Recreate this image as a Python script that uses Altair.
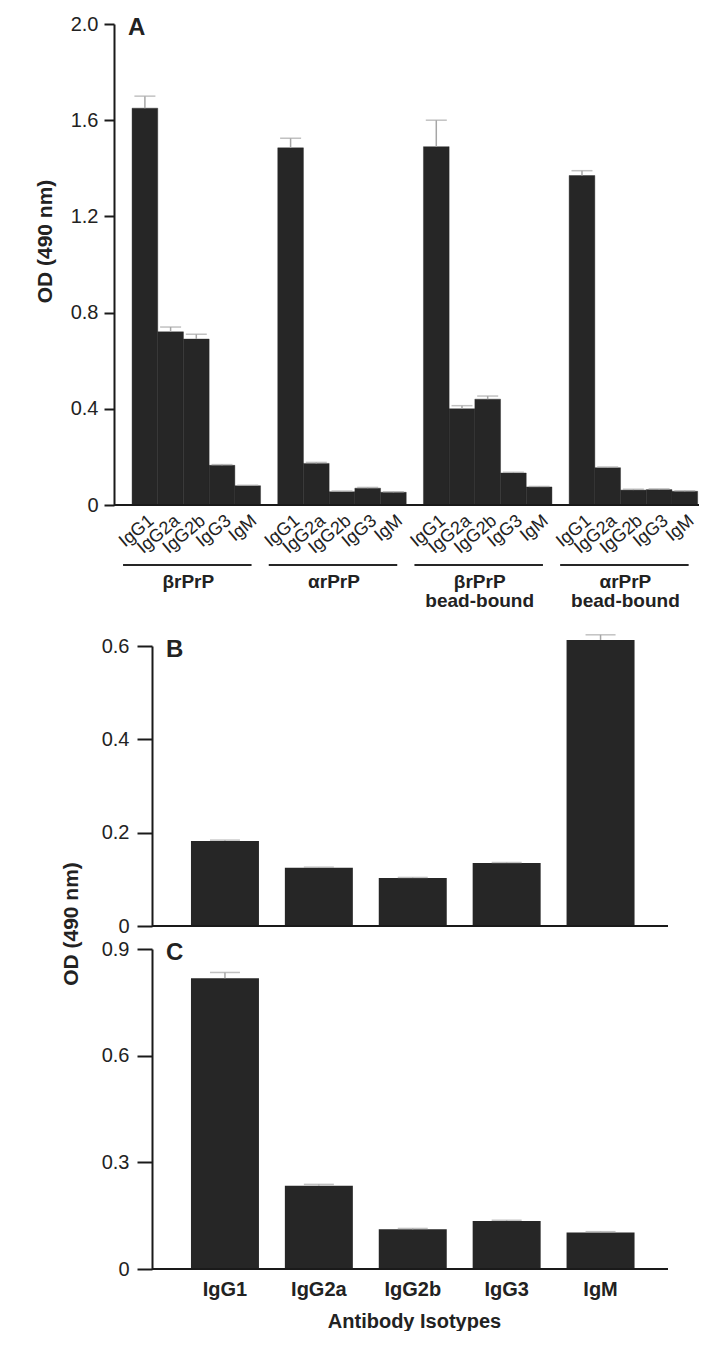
import altair as alt
import pandas as pd

DARK = "#262626"
GREY = "#a6a6a6"
AXC = "#1a1a1a"
TXT = "#222222"
FONT = "Liberation Sans"

isotypes = ["IgG1", "IgG2a", "IgG2b", "IgG3", "IgM"]

# Panel A
a_groups = ["g1", "g2", "g3", "g4"]
a_group_labels = ["βrPrP", "αrPrP", "βrPrP\nbead-bound", "αrPrP\nbead-bound"]
a_beta = [1.65, 0.72, 0.69, 0.165, 0.08]
a_alpha = [1.485, 0.173, 0.055, 0.07, 0.053]
a_beta_bead = [1.49, 0.40, 0.44, 0.133, 0.075]
a_alpha_bead = [1.37, 0.155, 0.062, 0.064, 0.057]
a_beta_err = [0.05, 0.02, 0.02, 0.003, 0.002]
a_alpha_err = [0.04, 0.004, 0.003, 0.003, 0.002]
a_beta_bead_err = [0.11, 0.013, 0.013, 0.003, 0.002]
a_alpha_bead_err = [0.02, 0.003, 0.003, 0.003, 0.002]
a_ticks = [0, 0.4, 0.8, 1.2, 1.6, 2.0]

# Panel B
b_vals = [0.182, 0.125, 0.103, 0.135, 0.613]
b_errs = [0.002, 0.001, 0.001, 0.001, 0.011]
b_ticks = [0, 0.2, 0.4, 0.6]

# Panel C
c_vals = [0.818, 0.234, 0.112, 0.135, 0.103]
c_errs = [0.016, 0.004, 0.002, 0.002, 0.002]
c_ticks = [0, 0.3, 0.6, 0.9]

label_expr = "datum.value == 0 ? '0' : format(datum.value, '.1f')"
one = pd.DataFrame({"k": [0]})

# ---------- Panel A ----------
rows = []
for g, lab, vals, errs in zip(a_groups, a_group_labels,
                              [a_beta, a_alpha, a_beta_bead, a_alpha_bead],
                              [a_beta_err, a_alpha_err, a_beta_bead_err, a_alpha_bead_err]):
    for iso, v, e in zip(isotypes, vals, errs):
        rows.append({"group": g, "label": lab, "iso": iso, "val": v, "top": v + e})
df_a = pd.DataFrame(rows)
df_ag = pd.DataFrame({"group": a_groups, "label": a_group_labels})

WA, HA_PLOT, HA = 585, 481, 599

xa = alt.X("group:N", sort=a_groups,
           scale=alt.Scale(domain=a_groups, paddingInner=0.118, paddingOuter=0.0666, align=0.93),
           axis=None)
xoa = alt.XOffset("iso:N", sort=isotypes,
                  scale=alt.Scale(domain=isotypes, paddingInner=0, paddingOuter=0))
ya_scale = alt.Scale(domain=[0, 2.0], range=[HA_PLOT, 0], nice=False, zero=True)
ya_axis = alt.Axis(values=a_ticks, labelExpr=label_expr, grid=False,
                   tickSize=10, tickWidth=2, tickColor=AXC,
                   domainColor=AXC, domainWidth=2,
                   labelPadding=6, labelFontSize=20, labelColor=TXT, labelFont=FONT,
                   title="OD (490 nm)", titleFontSize=21, titleFontWeight="bold",
                   titleFont=FONT, titleColor=TXT,
                   titleX=-69, titleY=217, titleAngle=270,
                   titleAlign="center", titleBaseline="middle")

bars_a = alt.Chart(df_a).mark_bar(color=DARK, stroke=DARK, strokeWidth=0.4).encode(
    x=xa, xOffset=xoa, y=alt.Y("val:Q", scale=ya_scale, axis=ya_axis))
err_a = alt.Chart(df_a).mark_rule(color=GREY, strokeWidth=1.5).encode(
    x=xa, xOffset=xoa, y=alt.Y("val:Q", scale=ya_scale, axis=ya_axis), y2="top:Q")
cap_a = alt.Chart(df_a).mark_tick(color=GREY, thickness=1.5, size=21).encode(
    x=xa, xOffset=xoa, y=alt.Y("top:Q", scale=ya_scale, axis=ya_axis))
base_a = alt.Chart(one).mark_rule(color=AXC, strokeWidth=2).encode(
    x=alt.value(0), x2=alt.value(WA), y=alt.datum(0, scale=ya_scale))
iso_a = alt.Chart(df_a).mark_text(angle=320, align="right", baseline="middle",
                                  fontSize=18, font=FONT, color=TXT,
                                  dx=-3.6, dy=15).encode(
    x=xa, xOffset=xoa, y=alt.value(HA_PLOT), text="iso:N")
under_a = alt.Chart(df_ag).mark_rect(color=DARK, xOffset=-9, x2Offset=-4).encode(
    x=xa, y=alt.value(HA_PLOT + 59), y2=alt.value(HA_PLOT + 61))
glab_a = alt.Chart(df_ag).mark_text(lineBreak="\n", fontSize=19, fontWeight="bold",
                                    font=FONT, color=TXT, lineHeight=19,
                                    align="center", baseline="alphabetic", dx=-8).encode(
    x=xa, y=alt.value(HA_PLOT + 83), text="label:N")
letter_a = alt.Chart(one).mark_text(text="A", fontSize=24, fontWeight="bold", font=FONT,
                                    color=TXT, align="left", baseline="alphabetic").encode(
    x=alt.value(14), y=alt.value(11))

panel_a = alt.layer(bars_a, err_a, cap_a, base_a, iso_a, under_a, glab_a, letter_a).properties(
    width=WA, height=HA)


# ---------- Panels B & C ----------
WBC = 554
AX_SHIFT = 38


def iso_panel(vals, errs, ticks, ymax, height, letter, cap, show_x, extra=None):
    df = pd.DataFrame({"iso": isotypes, "val": vals,
                       "top": [v + e for v, e in zip(vals, errs)]})
    if show_x:
        xaxis = alt.Axis(labels=True, ticks=False, tickSize=0, domain=False, labelAngle=0,
                         labelFontSize=20, labelFontWeight="bold", labelFont=FONT,
                         labelColor=TXT, labelPadding=10,
                         title="Antibody Isotypes", titleFontSize=20,
                         titleFontWeight="bold", titleFont=FONT, titleColor=TXT,
                         titlePadding=12, titleX=300)
    else:
        xaxis = None
    x = alt.X("iso:N", sort=isotypes,
              scale=alt.Scale(domain=isotypes, paddingInner=0.276, paddingOuter=0.588, align=0.697),
              axis=xaxis)
    ys = alt.Scale(domain=[0, ymax], nice=False, zero=True)
    yaxis = alt.Axis(values=ticks, labelExpr=label_expr, grid=False, offset=-AX_SHIFT,
                     tickSize=15, tickWidth=2, tickColor=AXC,
                     domainColor=AXC, domainWidth=2,
                     labelPadding=8, labelFontSize=20, labelColor=TXT,
                     labelFont=FONT, title=None)
    bars = alt.Chart(df).mark_bar(color=DARK).encode(
        x=x, y=alt.Y("val:Q", scale=ys, axis=yaxis))
    err = alt.Chart(df).mark_rule(color=GREY, strokeWidth=1.5).encode(
        x=x, y=alt.Y("val:Q", scale=ys, axis=yaxis), y2="top:Q")
    capm = alt.Chart(df).mark_tick(color=GREY, thickness=1.5, size=cap).encode(
        x=x, y=alt.Y("top:Q", scale=ys, axis=yaxis))
    base = alt.Chart(one).mark_rule(color=AXC, strokeWidth=2).encode(
        x=alt.value(AX_SHIFT), x2=alt.value(WBC), y=alt.datum(0, scale=ys))
    let = alt.Chart(one).mark_text(text=letter, fontSize=24, fontWeight="bold", font=FONT,
                                   color=TXT, align="left", baseline="alphabetic").encode(
        x=alt.value(AX_SHIFT + 14), y=alt.value(11))
    layers = [bars, err, capm, base, let]
    if extra:
        layers += extra
    return alt.layer(*layers).properties(width=WBC, height=height)


shared_title = alt.Chart(one).mark_text(text="OD (490 nm)", angle=270, fontSize=21,
                                        fontWeight="bold", font=FONT, color=TXT,
                                        align="center", baseline="middle").encode(
    x=alt.value(-42), y=alt.value(278))

panel_b = iso_panel(b_vals, b_errs, b_ticks, 0.6, 280, "B", 30, False, extra=[shared_title])
panel_c = iso_panel(c_vals, c_errs, c_ticks, 0.9, 320, "C", 30, True)

chart = alt.vconcat(panel_a, panel_b, panel_c, spacing=23, bounds="flush").properties(
    padding={"left": 26, "top": 6, "right": 0, "bottom": 0}
).configure(font=FONT, view=alt.ViewConfig(stroke=None))

chart.save("out.html", embed_options={"renderer": "svg", "actions": False})
